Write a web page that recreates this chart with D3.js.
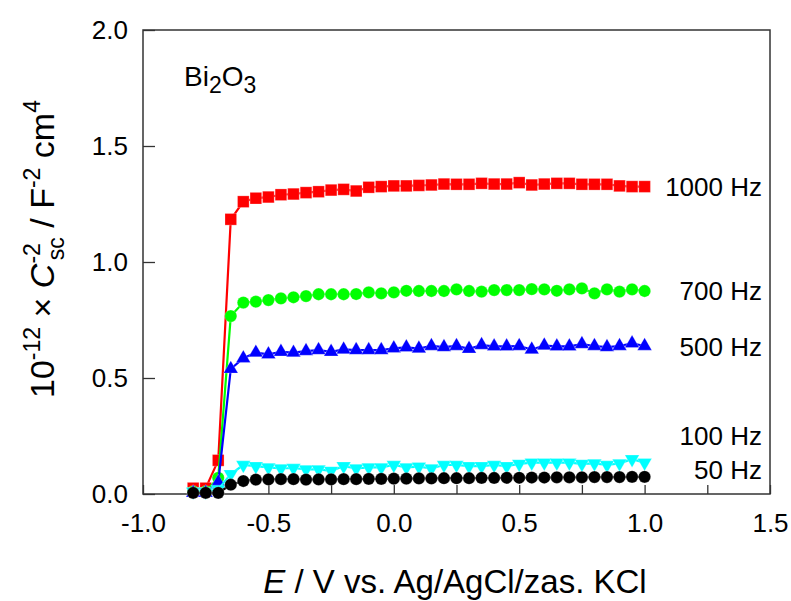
<!DOCTYPE html>
<html><head><meta charset="utf-8">
<script src="https://cdn.jsdelivr.net/npm/d3@7"></script>
<style>body{margin:0;background:#fff;} svg{display:block;} text{font-family:"Liberation Sans",Arial,sans-serif;fill:#000;}</style>
</head><body>
<svg id="chart" width="791" height="601"></svg>
<script>
const potentials = [-0.80,-0.75,-0.70,-0.65,-0.60,-0.55,-0.50,-0.45,-0.40,-0.35,-0.30,-0.25,-0.20,-0.15,-0.10,-0.05,0.00,0.05,0.10,0.15,0.20,0.25,0.30,0.35,0.40,0.45,0.50,0.55,0.60,0.65,0.70,0.75,0.80,0.85,0.90,0.95,1.00];
const hz1000 = [0.025,0.025,0.145,1.184,1.260,1.275,1.280,1.290,1.293,1.299,1.303,1.310,1.313,1.306,1.322,1.325,1.328,1.328,1.330,1.332,1.336,1.335,1.335,1.339,1.336,1.336,1.342,1.332,1.336,1.339,1.339,1.335,1.335,1.335,1.328,1.325,1.325];
const hz700 = [0.010,0.010,0.070,0.767,0.825,0.829,0.836,0.843,0.848,0.853,0.861,0.861,0.861,0.862,0.869,0.865,0.869,0.876,0.875,0.875,0.875,0.882,0.875,0.872,0.879,0.879,0.879,0.883,0.882,0.876,0.882,0.886,0.865,0.882,0.872,0.882,0.875];
const hz500 = [0.005,0.005,0.050,0.539,0.585,0.609,0.602,0.613,0.609,0.616,0.620,0.613,0.623,0.620,0.620,0.620,0.628,0.632,0.627,0.638,0.633,0.638,0.626,0.642,0.636,0.636,0.638,0.623,0.640,0.636,0.636,0.646,0.638,0.633,0.638,0.649,0.638];
const hz100 = [0.010,0.010,0.020,0.086,0.125,0.120,0.115,0.110,0.112,0.106,0.106,0.100,0.120,0.110,0.115,0.115,0.125,0.115,0.118,0.110,0.125,0.125,0.120,0.120,0.125,0.120,0.130,0.135,0.135,0.135,0.135,0.130,0.132,0.125,0.132,0.150,0.135];
const hz50 = [0.005,0.005,0.005,0.040,0.056,0.062,0.063,0.064,0.064,0.062,0.063,0.063,0.064,0.064,0.065,0.065,0.066,0.066,0.067,0.067,0.068,0.068,0.068,0.069,0.069,0.070,0.070,0.071,0.071,0.072,0.072,0.072,0.073,0.073,0.073,0.074,0.074];
const seriesNames = ["1000 Hz","700 Hz","500 Hz","100 Hz","50 Hz"];
const seriesColors = ["#ff0000","#00ff00","#0000ff","#00ffff","#000000"];
const xTicks = [-1.0,-0.75,-0.5,-0.25,0.0,0.25,0.5,0.75,1.0,1.25,1.5];
const yTicks = [0.0,0.5,1.0,1.5,2.0];

const seriesValues = [hz1000, hz700, hz500, hz100, hz50];
const symbols = [d3.symbolSquare, d3.symbolCircle, d3.symbolTriangle, "down", d3.symbolCircle];
const symSizes = [135, 118, 90, 90, 118];
const labelY = [1.325, 0.875, 0.635, 0.25, 0.105];

const svg = d3.select("#chart");
const L = 143, R = 770, T = 30, B = 494;
const x = d3.scaleLinear().domain([-1, 1.5]).range([L, R]);
const y = d3.scaleLinear().domain([0, 2]).range([B, T]);
const fmt = v => (Math.abs(v*2 - Math.round(v*2)) < 1e-9 ? d3.format(".1f")(v).replace("−","-") : "");

// axes
const gx = svg.append("g").attr("transform", `translate(0,${B})`)
  .call(d3.axisBottom(x).tickValues(xTicks).tickSize(-9).tickPadding(20).tickFormat(fmt));
gx.select(".domain").remove();
gx.selectAll("line").attr("stroke","#333").attr("stroke-width",1.3);
gx.selectAll("text").style("font-size","26px").style("font-family","'Liberation Sans',Arial,sans-serif");

const gy = svg.append("g").attr("transform", `translate(${L},0)`)
  .call(d3.axisLeft(y).tickValues(yTicks).tickSize(-12).tickPadding(15).tickFormat(v => d3.format(".1f")(v)));
gy.select(".domain").remove();
gy.selectAll("line").attr("stroke","#333").attr("stroke-width",1.3);
gy.selectAll("text").style("font-size","26px").style("font-family","'Liberation Sans',Arial,sans-serif");

svg.append("rect").attr("x",L).attr("y",T).attr("width",R-L).attr("height",B-T)
  .attr("fill","none").attr("stroke","#333").attr("stroke-width",1.5);

// series
const line = d3.line().x((d,i)=>x(potentials[i])).y(d=>y(d));
seriesValues.forEach((vals, si) => {
  const g = svg.append("g");
  g.append("path").datum(vals).attr("d", line).attr("fill","none")
    .attr("stroke", seriesColors[si]).attr("stroke-width", 2.2);
  const sym = symbols[si] === "down" ? d3.symbolTriangle : symbols[si];
  const rot = symbols[si] === "down" ? 180 : 0;
  g.selectAll("path.m").data(vals).enter().append("path").attr("class","m")
    .attr("d", d3.symbol().type(sym).size(symSizes[si]))
    .attr("transform",(d,i)=>`translate(${x(potentials[i])},${y(d)}) rotate(${rot})`)
    .attr("fill", seriesColors[si]).attr("stroke","#fff").attr("stroke-width",0.4).attr("stroke-opacity",0.6);
});

// series labels
seriesNames.forEach((n, si) => {
  svg.append("text").attr("x", 762).attr("y", y(labelY[si])).attr("dy","0.35em")
    .attr("text-anchor","end").style("font-size","26px").text(n);
});

// Bi2O3 annotation
const ann = svg.append("text").attr("x", 184).attr("y", 86).style("font-size","28px");
ann.append("tspan").text("Bi");
ann.append("tspan").attr("dy", 7).style("font-size","23px").text("2");
ann.append("tspan").attr("dy", -7).text("O");
ann.append("tspan").attr("dy", 7).style("font-size","23px").text("3");

// y title
const yt = svg.append("text").attr("transform",`translate(54,249) rotate(-90)`)
  .attr("text-anchor","middle").style("font-size","34px");
yt.append("tspan").text("10");
yt.append("tspan").attr("dy",-14).style("font-size","23px").text("-12");
yt.append("tspan").attr("dy",14).text(" \u00d7 ");
yt.append("tspan").style("font-style","italic").text("C");
yt.append("tspan").attr("dy",-14).style("font-size","23px").text("-2");
yt.append("tspan").attr("dy",24).attr("dx",-17).style("font-size","23px").text("sc");
yt.append("tspan").attr("dy",-10).text(" / F");
yt.append("tspan").attr("dy",-14).style("font-size","23px").text("-2");
yt.append("tspan").attr("dy",14).text(" cm");
yt.append("tspan").attr("dy",-14).style("font-size","23px").text("4");

// x title
const xt = svg.append("text").attr("x", 455).attr("y", 593).attr("text-anchor","middle").style("font-size","33px");
xt.append("tspan").style("font-style","italic").text("E");
xt.append("tspan").text(" / V vs. Ag/AgCl/zas. KCl");
</script>
</body></html>
